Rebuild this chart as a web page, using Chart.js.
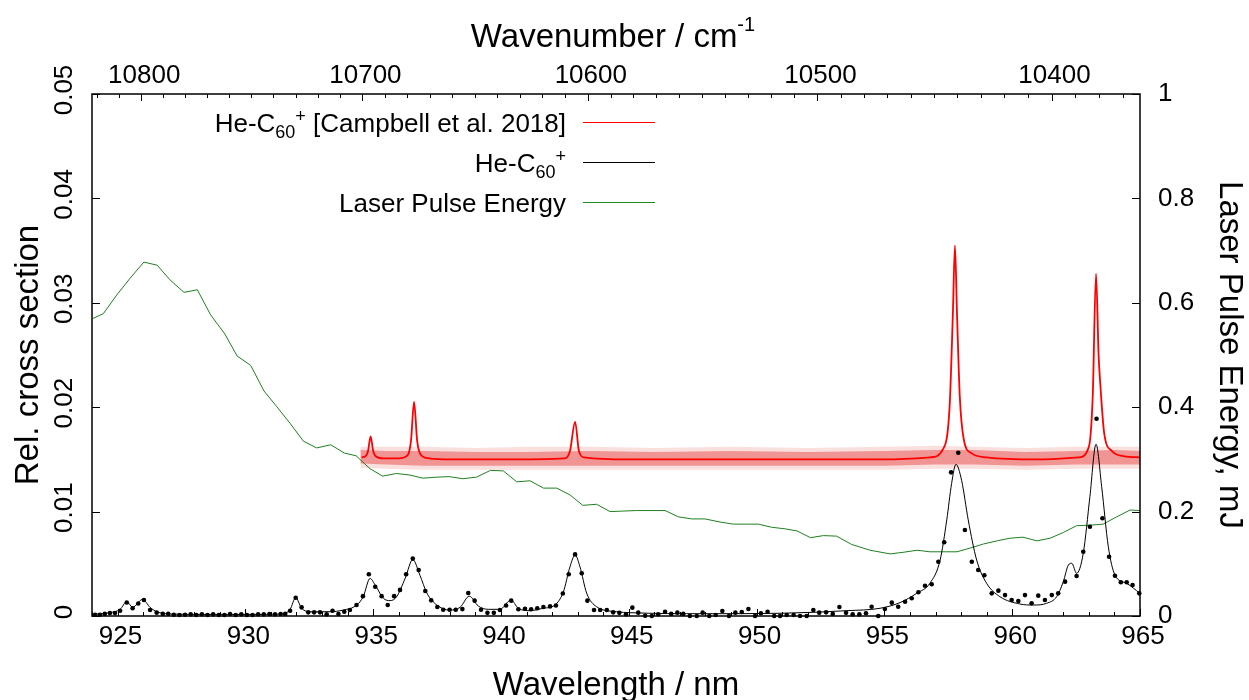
<!DOCTYPE html>
<html>
<head>
<meta charset="utf-8">
<script src="https://cdn.jsdelivr.net/npm/chart.js@4.4.1/dist/chart.umd.min.js"></script>
<style>
  html, body { margin: 0; padding: 0; background: #fff; }
  #wrap { width: 1249px; height: 700px; }
</style>
</head>
<body>
<div id="wrap"><canvas id="chart" width="1249" height="700"></canvas></div>
<script>
// axes
const xTicks = [925, 930, 935, 940, 945, 950, 955, 960, 965];
const wnTicks = [10800, 10700, 10600, 10500, 10400];
const yTicks = [0, 0.01, 0.02, 0.03, 0.04, 0.05];
const y2Ticks = [0, 0.2, 0.4, 0.6, 0.8, 1];

// He-C60+ [Campbell et al. 2018] - central trace
const refX = [934.55, 934.7, 934.8, 934.9, 935.0, 935.1, 935.4, 936.0, 936.35, 936.48, 936.6, 936.72, 936.85, 937.2, 938.0, 940.0,
  942.5, 942.7, 942.9, 943.05, 943.25, 945.0, 950.0, 955.0, 956.8, 957.3, 957.55, 957.68, 957.76, 957.84, 957.95, 958.1,
  958.4, 959.0, 961.0, 962.6, 963.0, 963.15, 963.28, 963.38, 963.45, 963.6, 963.9, 964.4, 965.0];
const refY = [0.0152, 0.0153, 0.0158, 0.0172, 0.0158, 0.0153, 0.0151, 0.0151, 0.0154, 0.0168, 0.0205, 0.0168, 0.0155, 0.0151, 0.0150, 0.0150,
  0.0151, 0.0158, 0.0186, 0.0158, 0.0152, 0.0150, 0.0150, 0.0150, 0.0152, 0.0160, 0.0200, 0.0290, 0.0355, 0.0290, 0.0210, 0.0170,
  0.0156, 0.0152, 0.0150, 0.0152, 0.0162, 0.0210, 0.0328, 0.0250, 0.0221, 0.0175, 0.0158, 0.0153, 0.0152];
// scatter of the reference trace: dense part and outliers (upper / lower edge)
const noiseX = [934.5, 935.5, 937, 939, 941, 943.5, 946, 949, 952, 955, 957, 958.5, 960.5, 962.5, 964, 965];
const noiseHigh = [0.0159, 0.0158, 0.0158, 0.0157, 0.0157, 0.0158, 0.0157, 0.0158, 0.0157, 0.0158, 0.0159, 0.0159, 0.0157, 0.0158, 0.0159, 0.0158];
const noiseLow = [0.0146, 0.0145, 0.0144, 0.0144, 0.0144, 0.0144, 0.0144, 0.0144, 0.0144, 0.0144, 0.0145, 0.0145, 0.0144, 0.0145, 0.0145, 0.0145];
const outlierHigh = [0.0162, 0.0162, 0.0162, 0.0161, 0.0162, 0.0162, 0.0161, 0.0162, 0.0161, 0.0162, 0.0163, 0.0162, 0.0161, 0.0162, 0.0162, 0.0162];
const outlierLow = [0.0142, 0.0141, 0.0140, 0.0140, 0.0140, 0.0140, 0.0140, 0.0140, 0.0140, 0.0140, 0.0141, 0.0141, 0.0140, 0.0141, 0.0141, 0.0141];

// He-C60+ measured points
const dotX = [924.12, 924.31, 924.50, 924.70, 924.90, 925.10, 925.36, 925.59, 925.81, 926.03, 926.27, 926.53, 926.77, 926.98,
  927.20, 927.42, 927.64, 927.86, 928.08, 928.30, 928.52, 928.74, 928.96, 929.18, 929.40, 929.62, 929.84, 930.06, 930.28,
  930.50, 930.72, 930.94, 931.16, 931.38, 931.56, 931.75, 931.97, 932.20, 932.46, 932.69, 932.92, 933.18, 933.41, 933.64,
  933.87, 934.09, 934.35, 934.60, 934.83, 935.08, 935.33, 935.57, 935.82, 936.05, 936.29, 936.55, 936.78, 937.04, 937.27,
  937.51, 937.74, 937.99, 938.23, 938.49, 938.72, 938.97, 939.22, 939.47, 939.72, 939.96, 940.20, 940.40, 940.68, 940.94,
  941.18, 941.42, 941.66, 941.92, 942.15, 942.42, 942.65, 942.90, 943.16, 943.38, 943.64, 943.88, 944.14, 944.39, 944.63,
  944.89, 945.14, 945.37, 945.64, 945.90, 946.15, 946.42, 946.66, 946.90, 947.13, 947.39, 947.66, 947.89, 948.15, 948.40,
  948.66, 948.92, 949.17, 949.42, 949.68, 949.94, 950.17, 950.43, 950.69, 950.92, 951.18, 951.45, 951.70, 951.96, 952.22,
  952.45, 952.72, 952.98, 953.24, 953.50, 953.76, 954.02, 954.28, 954.50, 954.76, 955.02, 955.29, 955.54, 955.81, 956.07,
  956.33, 956.59, 956.85, 957.11, 957.34, 957.61, 957.89, 958.15, 958.42, 958.67, 958.91, 959.20, 959.46, 959.72, 959.98,
  960.24, 960.50, 960.76, 961.02, 961.28, 961.55, 961.80, 962.07, 962.52, 962.78, 963.04, 963.30, 963.53, 963.79, 964.02,
  964.25, 964.48, 964.71, 964.97];
const dotY = [0.00012, 0.00012, 0.0002, 0.00028, 0.00028, 0.0005, 0.0013, 0.00074, 0.0012, 0.00153, 0.00057, 0.00032, 0.0002, 0.00022,
  0.00012, 0.0001, 0.00012, 0.00016, 0.0001, 0.00016, 0.0001, 0.00016, 0.0001, 0.0001, 0.00019, 0.0001, 0.00016, 0.0001, 0.0001,
  0.00016, 0.00016, 0.00019, 0.00016, 0.00019, 0.0002, 0.00051, 0.00175, 0.00083, 0.00035, 0.00035, 0.00035, 0.00016, 0.00051, 0.00019,
  0.00041, 0.00057, 0.00105, 0.0019, 0.0040, 0.0028, 0.0019, 0.00105, 0.0019, 0.0025, 0.0040, 0.0055, 0.0044, 0.0024, 0.0015,
  0.00086, 0.0006, 0.0006, 0.0006, 0.00066, 0.0022, 0.00147, 0.0006, 0.0003, 0.0003, 0.00057, 0.001, 0.00147, 0.00064, 0.0007,
  0.00064, 0.00074, 0.00086, 0.00092, 0.001, 0.00215, 0.004, 0.0059, 0.0041, 0.00147, 0.00057, 0.00057, 0.00057, 0.00035, 0.0003,
  0.00016, 0.0008, 0.00032, 0.00003, 0.0, 0.00016, 0.00041, 0.0002, 0.00032, 0.0002, 0.0, 0.0, 0.00032, 0.0, 0.0001,
  0.00048, 0.0, 0.00032, 0.00038, 0.00067, 0.0, 0.00026, 0.00041, 0.0, 0.0, 0.0001, 0.0001, 0.0, 0.0, 0.00057,
  0.00032, 0.00035, 0.0002, 0.00086, 0.0003, 0.00016, 0.00016, 0.00026, 0.00089, 0.0, 0.00067, 0.00128, 0.00089, 0.00137, 0.0017,
  0.00227, 0.0029, 0.00304, 0.0052, 0.00706, 0.01376, 0.01564, 0.00824, 0.0052, 0.0044, 0.0039, 0.00217, 0.00243, 0.002, 0.00153,
  0.00144, 0.002, 0.00122, 0.00195, 0.00153, 0.002, 0.00217, 0.00329, 0.00383, 0.00616, 0.00855, 0.0189, 0.00936, 0.00568, 0.00386,
  0.00323, 0.00323, 0.00297, 0.00217];

// He-C60+ fitted curve
const fitX = [924.0, 924.7, 925.1, 925.36, 925.59, 925.98, 926.27, 926.53, 927.05, 928.5, 930.0, 931.48, 931.75, 931.97, 932.2,
  932.53, 933.31, 933.83, 934.36, 934.61, 934.88, 935.07, 935.4, 935.66, 935.92, 936.25, 936.55, 936.83, 937.1, 937.49,
  938.0, 938.4, 938.76, 939.11, 939.5, 939.96, 940.39, 940.68, 941.13, 941.66, 942.11, 942.44, 942.7, 942.9, 943.09,
  943.35, 943.74, 944.53, 945.05, 948.0, 950.92, 953.53, 954.83, 955.61, 956.26, 956.78, 957.18, 957.44, 957.63, 957.8,
  958.02, 958.28, 958.61, 959.0, 959.52, 960.3, 960.83, 961.35, 961.74, 962.0, 962.2, 962.33, 962.52, 962.78, 963.04,
  963.28, 963.5, 963.76, 964.02, 964.48, 965.0];
const fitY = [0.00016, 0.00032, 0.00064, 0.00137, 0.00083, 0.0016, 0.00083, 0.00041, 0.00019, 0.00015, 0.00015, 0.00019, 0.00064, 0.00175, 0.00074,
  0.00041, 0.00041, 0.00057, 0.00105, 0.00185, 0.0036, 0.0030, 0.0017, 0.00147, 0.00185, 0.0036, 0.0054, 0.0039, 0.0022, 0.00105,
  0.00057, 0.00083, 0.0019, 0.00096, 0.00064, 0.00064, 0.00153, 0.00074, 0.00051, 0.00074, 0.00105, 0.0023, 0.00472, 0.00584, 0.00472,
  0.0022, 0.00089, 0.00041, 0.00032, 0.00022, 0.00026, 0.00051, 0.00074, 0.00128, 0.00217, 0.00313, 0.00536, 0.0092, 0.0127, 0.01453,
  0.0130, 0.0092, 0.00536, 0.00313, 0.00185, 0.00115, 0.00105, 0.00122, 0.00185, 0.00329, 0.00489, 0.00505, 0.00409, 0.0060, 0.01143,
  0.01645, 0.01239, 0.00664, 0.00393, 0.00313, 0.00217];

// Laser pulse energy (mJ)
const laserX = [924.03, 924.44, 924.97, 925.49, 926.03, 926.55, 927.05, 927.60, 928.12, 928.64, 929.20, 929.68, 930.21, 930.73,
  931.23, 931.75, 932.27, 932.79, 933.34, 933.88, 934.33, 934.88, 935.37, 935.91, 936.44, 936.95, 937.49, 937.97, 938.51,
  939.04, 939.59, 940.09, 940.62, 941.14, 941.66, 942.18, 942.70, 943.20, 943.74, 944.27, 944.77, 945.31, 945.83, 946.42,
  946.94, 947.46, 947.98, 948.57, 949.09, 949.59, 950.07, 950.59, 951.11, 951.58, 952.11, 952.61, 953.13, 953.72, 954.44,
  955.22, 955.73, 956.28, 956.78, 957.29, 957.84, 958.35, 958.88, 959.41, 959.91, 960.42, 960.97, 961.48, 962.00, 962.52,
  963.04, 963.56, 964.09, 964.61, 965.0];
const laserY = [0.570, 0.579, 0.615, 0.647, 0.678, 0.672, 0.644, 0.620, 0.625, 0.577, 0.540, 0.498, 0.480, 0.431,
  0.401, 0.369, 0.335, 0.322, 0.328, 0.312, 0.307, 0.282, 0.268, 0.273, 0.270, 0.264, 0.266, 0.267, 0.263,
  0.266, 0.279, 0.278, 0.257, 0.259, 0.245, 0.245, 0.232, 0.212, 0.214, 0.200, 0.201, 0.202, 0.202, 0.202,
  0.190, 0.186, 0.186, 0.180, 0.176, 0.176, 0.176, 0.170, 0.167, 0.163, 0.150, 0.154, 0.153, 0.137, 0.126,
  0.119, 0.122, 0.126, 0.123, 0.123, 0.123, 0.130, 0.138, 0.144, 0.149, 0.151, 0.144, 0.149, 0.160, 0.173,
  0.174, 0.176, 0.190, 0.203, 0.202];

const FONT = '"Liberation Sans", Arial, sans-serif';
const pts = (xs, ys) => xs.map((x, i) => ({x: x, y: ys[i]}));

// text with sub/superscripts: parts = [[text, 'sub'|'sup'|'']]
function richText(ctx, parts, x, y, align, size, small, subDy, supDy) {
  const widths = parts.map(p => {
    ctx.font = (p[1] ? small : size) + 'px ' + FONT;
    return ctx.measureText(p[0]).width;
  });
  const total = widths.reduce((s, w) => s + w, 0);
  let cx = align === 'right' ? x - total : (align === 'center' ? x - total / 2 : x);
  ctx.textAlign = 'left';
  ctx.textBaseline = 'alphabetic';
  parts.forEach((p, i) => {
    ctx.font = (p[1] ? small : size) + 'px ' + FONT;
    const dy = p[1] === 'sub' ? subDy : (p[1] === 'sup' ? -supDy : 0);
    ctx.fillText(p[0], cx, y + dy);
    cx += widths[i];
  });
}

const frame = {
  id: 'frame',
  afterDatasetsDraw(chart) {
    const {ctx, chartArea: a, scales} = chart;
    ctx.save();
    ctx.strokeStyle = '#000';
    ctx.lineWidth = 1;
    const seg = (x1, y1, x2, y2) => { ctx.beginPath(); ctx.moveTo(x1, y1); ctx.lineTo(x2, y2); ctx.stroke(); };

    // bottom ticks, minor every nm
    for (let v = 924; v <= 965; v++) {
      const px = Math.round(scales.x.getPixelForValue(v)) + 0.5;
      seg(px, a.bottom, px, a.bottom - (v % 5 === 0 ? 7 : 4));
    }
    // top ticks, minor every 10 cm-1
    for (let w = 10370; w <= 10830; w += 10) {
      const lam = 1e7 / w;
      if (lam < 924 || lam > 965) continue;
      const px = Math.round(scales.x2.getPixelForValue(lam)) + 0.5;
      seg(px, a.top, px, a.top + (w % 100 === 0 ? 7 : 4));
    }
    yTicks.forEach(v => {
      const py = Math.round(scales.y.getPixelForValue(v)) + 0.5;
      seg(a.left, py, a.left + 8, py);
    });
    y2Ticks.forEach(v => {
      const py = Math.round(scales.y2.getPixelForValue(v)) + 0.5;
      seg(a.right, py, a.right - 8, py);
    });

    ctx.lineWidth = 1.5;
    ctx.strokeRect(a.left, a.top, a.right - a.left, a.bottom - a.top);
    ctx.restore();
  },
  afterDraw(chart) {
    const ctx = chart.ctx;
    ctx.save();
    ctx.fillStyle = '#000';
    // top axis title
    richText(ctx, [['Wavenumber / cm', ''], ['-1', 'sup']], 613, 47, 'center', 33, 20, 0, 16);

    // legend
    const entries = [
      {parts: [['He-C', ''], ['60', 'sub'], ['+', 'sup'], [' [Campbell et al. 2018]', '']], color: '#ff0000'},
      {parts: [['He-C', ''], ['60', 'sub'], ['+', 'sup']], color: '#000000'},
      {parts: [['Laser Pulse Energy', '']], color: '#228b22'}
    ];
    entries.forEach((e, i) => {
      const yc = 122 + i * 40;
      ctx.fillStyle = '#000';
      richText(ctx, e.parts, 566, yc + 9.5, 'right', 26, 18, 6, 10);
      ctx.strokeStyle = e.color;
      ctx.lineWidth = 1;
      ctx.beginPath();
      ctx.moveTo(583, yc + 0.5);
      ctx.lineTo(655, yc + 0.5);
      ctx.stroke();
    });
    ctx.restore();
  }
};

new Chart(document.getElementById('chart'), {
  type: 'line',
  data: {
    datasets: [
      {
        label: 'He-C60+ points',
        data: pts(dotX, dotY),
        showLine: false,
        pointRadius: 2.3,
        pointBackgroundColor: '#000',
        pointBorderWidth: 0,
        clip: 3,
        order: 0
      },
      {
        label: 'He-C60+',
        data: pts(fitX, fitY),
        borderColor: '#000',
        borderWidth: 1,
        pointRadius: 0,
        cubicInterpolationMode: 'monotone',
        order: 1
      },
      {
        label: 'Laser Pulse Energy',
        data: pts(laserX, laserY),
        yAxisID: 'y2',
        borderColor: '#1f801f',
        borderWidth: 1,
        pointRadius: 0,
        tension: 0,
        order: 2
      },
      {
        label: 'He-C60+ [Campbell et al. 2018]',
        data: pts(refX, refY),
        borderColor: '#ff0000',
        borderWidth: 1.8,
        pointRadius: 0,
        cubicInterpolationMode: 'monotone',
        order: 3
      },
      {
        label: 'noise high',
        data: pts(noiseX, noiseHigh),
        borderWidth: 0,
        pointRadius: 0,
        backgroundColor: 'rgba(225, 25, 25, 0.38)',
        fill: '+1',
        order: 4
      },
      {
        label: 'noise low',
        data: pts(noiseX, noiseLow),
        borderWidth: 0,
        pointRadius: 0,
        fill: false,
        order: 5
      },
      {
        label: 'outliers high',
        data: pts(noiseX, outlierHigh),
        borderWidth: 0,
        pointRadius: 0,
        backgroundColor: 'rgba(220, 40, 40, 0.15)',
        fill: '+1',
        order: 6
      },
      {
        label: 'outliers low',
        data: pts(noiseX, outlierLow),
        borderWidth: 0,
        pointRadius: 0,
        fill: false,
        order: 7
      }
    ]
  },
  options: {
    responsive: false,
    devicePixelRatio: 1,
    animation: false,
    events: [],
    layout: { padding: 0 },
    plugins: { legend: { display: false }, tooltip: { enabled: false } },
    font: { family: FONT },
    scales: {
      x: {
        type: 'linear', position: 'bottom', min: 924, max: 965,
        grid: { display: false, drawTicks: false }, border: { display: false },
        afterBuildTicks: s => { s.ticks = xTicks.map(v => ({value: v})); },
        afterFit: s => { s.height = 84; },
        ticks: { color: '#000', font: { family: FONT, size: 26 }, padding: 5, labelOffset: 3, minRotation: 0, maxRotation: 0, autoSkip: false,
          callback: v => String(v) },
        title: { display: true, text: 'Wavelength / nm', color: '#000', font: { family: FONT, size: 33, lineHeight: 1.2 }, padding: { top: 0, bottom: -6 } }
      },
      x2: {
        type: 'linear', position: 'top', min: 924, max: 965,
        grid: { display: false, drawTicks: false }, border: { display: false },
        afterBuildTicks: s => { s.ticks = wnTicks.map(w => ({value: 1e7 / w})); },
        afterFit: s => { s.height = 94; },
        ticks: { color: '#000', font: { family: FONT, size: 26 }, padding: 2.5, labelOffset: 3, minRotation: 0, maxRotation: 0, autoSkip: false,
          callback: (v, i) => String(wnTicks[i]) }
      },
      y: {
        type: 'linear', position: 'left', min: 0, max: 0.05,
        grid: { display: false, drawTicks: false }, border: { display: false },
        afterBuildTicks: s => { s.ticks = yTicks.map(v => ({value: v})); },
        afterFit: s => { s.width = 92; },
        ticks: { color: '#000', font: { family: FONT, size: 26 }, padding: 2, labelOffset: -4, minRotation: 90, maxRotation: 90,
          crossAlign: 'center', autoSkip: false, callback: v => (v === 0 ? '0' : v.toFixed(2)) },
        title: { display: true, text: 'Rel. cross section', color: '#000', font: { family: FONT, size: 33, lineHeight: 1.2 }, padding: { top: 9, bottom: 0 } }
      },
      y2: {
        type: 'linear', position: 'right', min: 0, max: 1,
        grid: { display: false, drawTicks: false }, border: { display: false },
        afterBuildTicks: s => { s.ticks = y2Ticks.map(v => ({value: v})); },
        afterFit: s => { s.width = 109; },
        ticks: { color: '#000', font: { family: FONT, size: 26 }, padding: 18, autoSkip: false, callback: v => String(v) },
        title: { display: true, text: 'Laser Pulse Energy, mJ', color: '#000', font: { family: FONT, size: 33, lineHeight: 1.2 }, padding: { top: 0, bottom: 0 } }
      }
    }
  },
  plugins: [frame]
});
</script>
</body>
</html>
